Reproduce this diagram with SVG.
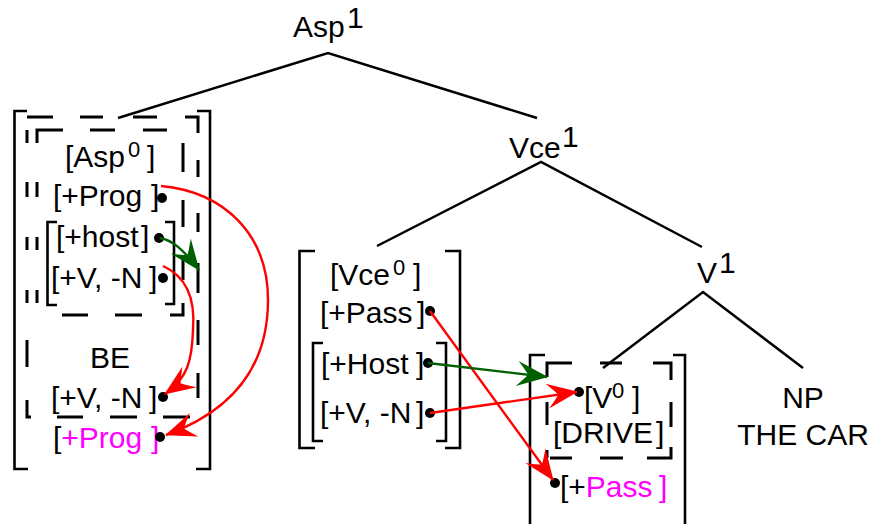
<svg xmlns="http://www.w3.org/2000/svg" width="872" height="524" viewBox="0 0 872 524">
<style>
text{font-family:"Liberation Sans",Arial,Helvetica,sans-serif;font-size:30px;fill:#000}
.sup{font-size:22px}
.mag{fill:#ff00ff}
.br{fill:none;stroke:#000;stroke-width:2.6}
.dash{fill:none;stroke:#000;stroke-width:3}
.edge{fill:none;stroke:#000;stroke-width:2.5}
.red{fill:none;stroke:#ff0000;stroke-width:2.4}
.grn{fill:none;stroke:#006000;stroke-width:2.4}
.dot{fill:#000}
</style>
<defs>
<marker id="ahR" markerUnits="userSpaceOnUse" orient="auto" refX="0" refY="0" markerWidth="36" markerHeight="28" viewBox="-34 -14 36 28" overflow="visible">
<path d="M1,0 L-30,-12.5 Q-21,-3 -19,0 Q-21,3 -30,12.5 Z" fill="#ff0000"/>
</marker>
<marker id="ahG" markerUnits="userSpaceOnUse" orient="auto" refX="0" refY="0" markerWidth="36" markerHeight="28" viewBox="-34 -14 36 28" overflow="visible">
<path d="M1,0 L-30,-12.5 Q-21,-3 -19,0 Q-21,3 -30,12.5 Z" fill="#006000"/>
</marker>
</defs>

<g id="node-asp1"><text x="293" y="37">Asp</text><text x="347" y="28">1</text></g>
<g id="node-vce1"><text x="509" y="158">Vce</text><text x="562" y="147">1</text></g>
<g id="node-v1"><text x="697" y="283">V</text><text x="719" y="273">1</text></g>
<g id="node-np"><text x="803" y="408" text-anchor="middle">NP</text><text x="803" y="445" text-anchor="middle">THE CAR</text></g>

<g id="node-asp0">
<path class="br" d="M27,111 H14.5 V469 H28 M197,111 H210 V469 H196"/>
<path class="br" d="M57,222 H47.5 V305 H57 M165,222 H174 V304 H165"/>
<path class="dash" d="M27,117 H53 M80,117 H103 M133,117 H157 M185,117 H198 V133 M198,160 V177 M198,213 V232 M198,263 V293 M198,320 V345 M198,373 V398 M57,417 H83 M110,417 H137 M163,417 H190 M27,130 V143 M27,182 V197 M27,237 V250 M27,290 V303 M27,340 V367 M27,400 V417 H31"/>
<path class="dash" d="M37,143 V130 H63 M90,130 H115 M143,130 H167 M183,143 V172 M183,200 V227 M183,255 V280 M183,303 V315 H170 M62,315 H88 M115,315 H142 M37,182 V197 M37,237 V250 M37,290 V303"/>
<text x="65" y="167">[Asp<tspan class="sup" x="128" dy="-10">0</tspan><tspan x="147" dy="10">]</tspan></text>
<text x="53" y="206">[+Prog<tspan x="151">]</tspan></text>
<text x="56" y="247">[+host<tspan x="141">]</tspan></text>
<text x="51" y="288">[+V, -N<tspan x="149">]</tspan></text>
<text x="90" y="368">BE</text>
<text x="51" y="408">[+V, -N<tspan x="149">]</tspan></text>
<text x="53" y="448">[<tspan class="mag">+Prog</tspan><tspan class="mag" x="151">]</tspan></text>
<circle class="dot" cx="162" cy="198" r="5"/>
<circle class="dot" cx="159" cy="238" r="5"/>
<circle class="dot" cx="163" cy="278" r="5"/>
<circle class="dot" cx="163" cy="397" r="5"/>
<circle class="dot" cx="160" cy="437" r="5"/>
</g>

<g id="node-vce0">
<path class="br" d="M315,251 H299.5 V448 H315 M445,251 H460 V448 H445"/>
<path class="br" d="M323,343 H313 V441 H323 M436,343 H446 V441 H436"/>
<text x="330" y="285">[Vce<tspan class="sup" x="393" dy="-10">0</tspan><tspan x="413" dy="10">]</tspan></text>
<text x="320" y="323">[+Pass<tspan x="417">]</tspan></text>
<text x="321" y="374">[+Host<tspan x="416">]</tspan></text>
<text x="320" y="423">[+V, -N<tspan x="416">]</tspan></text>
<circle class="dot" cx="430" cy="311" r="5"/>
<circle class="dot" cx="428" cy="363" r="5"/>
<circle class="dot" cx="430" cy="413" r="5"/>
</g>

<g id="node-v0">
<path class="br" d="M545,355 H530 V524 M673,355 H685 V524"/>
<path class="dash" d="M547,377 V363 H572 M600,363 H622 M653,363 H671 V380 M671,402 V427 M671,447 V458 H647 M550,458 H572 M600,458 H623 M547,402 V425 M547,450 V458"/>
<text x="584" y="408">[V<tspan class="sup" x="612" dy="-10">0</tspan><tspan x="632" dy="10">]</tspan></text>
<text x="553" y="443">[DRIVE<tspan x="656">]</tspan></text>
<text x="560" y="497">[+<tspan class="mag">Pass</tspan><tspan class="mag" x="659">]</tspan></text>
<circle class="dot" cx="579" cy="392" r="5"/>
<circle class="dot" cx="555" cy="483" r="5"/>
</g>

<g id="connectors">
<path class="edge" d="M118,118 L328,53 L537,118"/>
<path class="edge" d="M377,246 L541,162 L702,247"/>
<path class="edge" d="M603,368 L703,292 L803,368"/>
<path class="red" marker-end="url(#ahR)" d="M161,186 C225,192 268,235 268,300 C268,365 235,410 166,435"/>
<path class="red" marker-end="url(#ahR)" d="M163,266 C190,278 195,305 193,330 C192,360 188,378 165,394"/>
<path class="grn" marker-end="url(#ahG)" d="M160,238 C172,240 183,249 199,270"/>
<path class="red" marker-end="url(#ahR)" d="M430,311 L553,480"/>
<path class="grn" marker-end="url(#ahG)" d="M428,363 L547,377"/>
<path class="red" marker-end="url(#ahR)" d="M430,413 L577,392"/>
</g>
</svg>
